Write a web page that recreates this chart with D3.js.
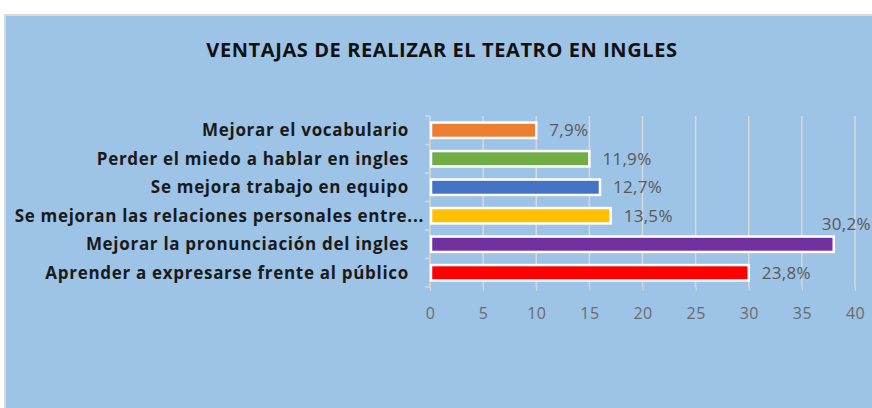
<!DOCTYPE html>
<html>
<head>
<meta charset="utf-8">
<script src="https://cdn.jsdelivr.net/npm/d3@7"></script>
<style>
  body { margin: 0; background: #fff; }
  svg { display: block; }
</style>
</head>
<body>
<div id="chart"></div>
<script>
const categories = [
    "Mejorar el vocabulario",
    "Perder el miedo a hablar en ingles",
    "Se mejora trabajo en equipo",
    "Se mejoran las relaciones personales entre...",
    "Mejorar la pronunciación del ingles",
    "Aprender a expresarse frente al público"
];
const values = [10, 15, 16, 17, 38, 30];
const valueLabels = ["7,9%", "11,9%", "12,7%", "13,5%", "30,2%", "23,8%"];
const colors = ["#ED7D31", "#70AD47", "#4472C4", "#FFC000", "#7030A0", "#FF0000"];
const xTicks = [0, 5, 10, 15, 20, 25, 30, 35, 40];

const W = 872, H = 408;
const margin = {top: 116, right: 17, bottom: 121, left: 430};

const svg = d3.select("#chart")
    .append("svg")
    .attr("width", W)
    .attr("height", H);

// chart background
svg.append("rect")
    .attr("x", 5).attr("y", 15)
    .attr("width", W - 4).attr("height", H - 14)
    .attr("fill", "#9DC3E6")
    .attr("stroke", "#D9D9D9")
    .attr("stroke-width", 2);

svg.append("text")
    .attr("x", 442).attr("y", 57)
    .attr("text-anchor", "middle")
    .attr("font-family", "Open Sans, sans-serif")
    .attr("font-weight", "bold")
    .attr("font-size", 20)
    .attr("letter-spacing", 0.6)
    .attr("fill", "#111")
    .text("VENTAJAS DE REALIZAR EL TEATRO EN INGLES");

const x = d3.scaleLinear()
    .domain([0, 40])
    .range([margin.left, W - margin.right]);

const y = d3.scaleBand()
    .domain(categories)
    .range([margin.top, H - margin.bottom])
    .paddingInner(0.46)
    .paddingOuter(0.23);

// vertical gridlines
svg.append("g")
    .selectAll("line")
    .data(xTicks.slice(1))
    .enter()
    .append("line")
    .attr("x1", d => x(d)).attr("x2", d => x(d))
    .attr("y1", margin.top).attr("y2", H - margin.bottom)
    .attr("stroke", "#D9D9D9")
    .attr("stroke-width", 1.5);

// x axis labels
const xAxis = svg.append("g")
    .attr("transform", `translate(0,${H - margin.bottom})`)
    .call(d3.axisBottom(x).tickValues(xTicks).tickSize(4).tickPadding(17));
xAxis.select(".domain").remove();
xAxis.selectAll("line").attr("stroke", "#D9D9D9");
xAxis.selectAll("text")
    .attr("font-family", "Open Sans, sans-serif")
    .attr("font-size", 16)
    .attr("letter-spacing", 0.4)
    .attr("fill", "#6B6B6B");

// left axis with ticks between bands
svg.append("line")
    .attr("x1", margin.left).attr("x2", margin.left)
    .attr("y1", margin.top).attr("y2", H - margin.bottom)
    .attr("stroke", "#D9D9D9")
    .attr("stroke-width", 1.5);
const step = y.step();
svg.append("g")
    .selectAll("line")
    .data(d3.range(categories.length + 1))
    .enter()
    .append("line")
    .attr("x1", margin.left - 5).attr("x2", margin.left)
    .attr("y1", i => margin.top + i * step)
    .attr("y2", i => margin.top + i * step)
    .attr("stroke", "#D9D9D9")
    .attr("stroke-width", 1.5);

// category labels (the truncated one runs a bit past the others)
svg.append("g")
    .selectAll("text")
    .data(categories)
    .enter()
    .append("text")
    .attr("x", d => d.endsWith("...") ? 424 : 409)
    .attr("y", d => y(d) + y.bandwidth() / 2)
    .attr("dy", "0.35em")
    .attr("text-anchor", "end")
    .attr("font-family", "Open Sans, sans-serif")
    .attr("font-weight", "bold")
    .attr("font-size", 17)
    .attr("letter-spacing", 0.7)
    .attr("fill", "#1A1A1A")
    .text(d => d);

// bars
svg.append("g")
    .selectAll("rect")
    .data(categories)
    .enter()
    .append("rect")
    .attr("x", x(0) + 1)
    .attr("y", d => y(d))
    .attr("width", (d, i) => x(values[i]) - x(0) - 1)
    .attr("height", y.bandwidth())
    .attr("fill", (d, i) => colors[i])
    .attr("stroke", "#FFFFFF")
    .attr("stroke-width", 2.5);

// value labels
svg.append("g")
    .selectAll("text")
    .data(categories)
    .enter()
    .append("text")
    .attr("x", (d, i) => i === 4 ? x(values[i]) - 12 : x(values[i]) + 13)
    .attr("y", (d, i) => i === 4 ? y(d) - 13 : y(d) + y.bandwidth() / 2)
    .attr("dy", "0.35em")
    .attr("font-family", "Open Sans, sans-serif")
    .attr("font-size", 17)
    .attr("letter-spacing", 0.3)
    .attr("fill", "#595959")
    .text((d, i) => valueLabels[i]);
</script>
</body>
</html>
